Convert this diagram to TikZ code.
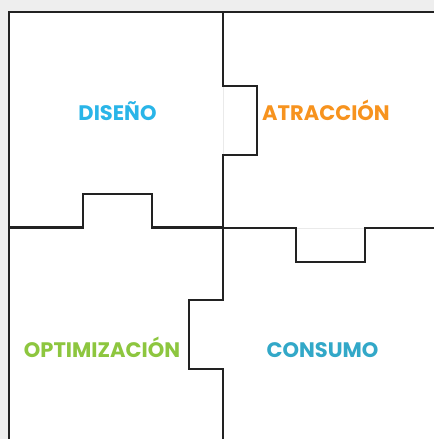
\documentclass[tikz,border=0pt]{standalone}
\usepackage{fontspec}
\setmainfont{Poppins}
\definecolor{bggray}{HTML}{EEEEEE}
\definecolor{linec}{HTML}{222222}
\definecolor{faint}{HTML}{EAEAEA}
\definecolor{cdis}{HTML}{29B5E8}
\definecolor{catr}{HTML}{F7931E}
\definecolor{copt}{HTML}{8DC63F}
\definecolor{ccon}{HTML}{32A8C8}
\begin{document}
\begin{tikzpicture}[x=1pt,y=-1pt,
  wall/.style={draw=linec,line width=2.3pt,line join=miter},
  seam/.style={draw=faint,line width=0.6pt},
  label/.style={font=\fontsize{21}{23}\selectfont\bfseries,inner sep=0pt,anchor=base}]
\useasboundingbox (0,0) rectangle (434,439);
\fill[bggray] (0,0) rectangle (434,439);
\fill[white] (9,12) rectangle (434,439);
% faint seams across tab openings
\draw[seam] (223,86) -- (223,155);
\draw[seam] (296,228) -- (365,228);
% outer frame
\draw[wall] (9,439) -- (9,12) -- (434,12);
% top-left bottom edge with tab (DISEÑO)
\draw[wall] (9,227.5) -- (83,227.5) -- (83,194) -- (152,194) -- (152,227.5) -- (223,227.5);
% upper vertical with tab (ATRACCIÓN)
\draw[wall] (223,12) -- (223,86) -- (257,86) -- (257,155) -- (223,155) -- (223,228);
% right horizontal with tab (CONSUMO)
\draw[wall] (223,228) -- (296,228) -- (296,262) -- (365,262) -- (365,228) -- (434,228);
% lower vertical with tab (OPTIMIZACIÓN)
\draw[wall] (223,228) -- (223,300) -- (189,300) -- (189,369) -- (223,369) -- (223,439);
% labels
\node[label,text=cdis] (dis) at (117.5,120) {DISEÑO};
\node[label,text=catr] (atr) at (326,120) {ATRACCIÓN};
\node[label,text=copt] (opt) at (102,357) {OPTIMIZACIÓN};
\node[label,text=ccon] (con) at (322.5,357) {CONSUMO};
\end{tikzpicture}
\end{document}
